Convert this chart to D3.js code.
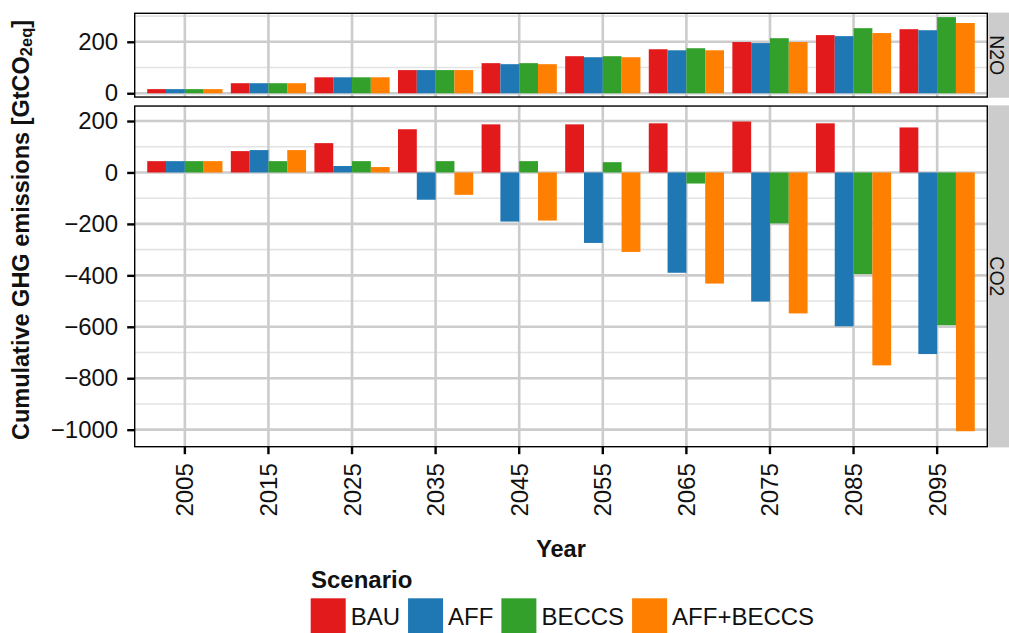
<!DOCTYPE html>
<html>
<head>
<meta charset="utf-8">
<script src="https://cdn.jsdelivr.net/npm/d3@7"></script>
<style>
  html, body { margin: 0; padding: 0; background: #ffffff; }
  svg { display: block; font-family: "Liberation Sans", Arial, Helvetica, sans-serif; }
</style>
</head>
<body>
<svg id="chart" width="1009" height="633"></svg>
<script>
// ---------- data ----------
const years = ["2005","2015","2025","2035","2045","2055","2065","2075","2085","2095"];
const scenarios = ["BAU","AFF","BECCS","AFF+BECCS"];
const scenarioColors = ["#E31A1C","#1F78B4","#33A02C","#FF7F00"];
const gases = ["N2O","CO2"];

const n2oBAU       = [16, 39, 62, 90, 117, 144, 171, 199, 226, 249];
const n2oAFF       = [16, 39, 62, 90, 113, 140, 167, 195, 222, 245];
const n2oBECCS     = [16, 39, 62, 90, 117, 144, 175, 214, 253, 296];
const n2oAFFBECCS  = [16, 39, 62, 90, 113, 140, 167, 199, 234, 273];

const co2BAU       = [44, 83, 114, 168, 187, 187, 191, 198, 191, 175];
const co2AFF       = [44, 87, 25, -106, -191, -274, -390, -502, -598, -706];
const co2BECCS     = [44, 44, 44, 44, 44, 40, -43, -198, -395, -594];
const co2AFFBECCS  = [44, 87, 21, -87, -187, -309, -432, -548, -750, -1006];

const yTickValuesN2O = [0, 200];
const yTickValuesCO2 = [200, 0, -200, -400, -600, -800, -1000];

// ---------- build records ----------
const seriesByGas = {
  "N2O": [n2oBAU, n2oAFF, n2oBECCS, n2oAFFBECCS],
  "CO2": [co2BAU, co2AFF, co2BECCS, co2AFFBECCS]
};
function records(gas) {
  const out = [];
  seriesByGas[gas].forEach((arr, si) => {
    arr.forEach((v, yi) => out.push({ year: years[yi], scenario: scenarios[si], value: v }));
  });
  return out;
}

// ---------- layout ----------
const svg = d3.select("#chart");
const pLeft = 134.7, pRight = 987.3;
const pTop = 13.3, pBottom = 446.7, pGap = 9;
const textColor = "#111111";

function expanded(vals) {
  const lo = Math.min(0, d3.min(vals)), hi = Math.max(0, d3.max(vals));
  const pad = (hi - lo) * 0.05;
  return [lo - pad, hi + pad];
}
const domains = {
  "N2O": expanded(seriesByGas["N2O"].flat()),
  "CO2": expanded(seriesByGas["CO2"].flat())
};
const spanN = domains.N2O[1] - domains.N2O[0];
const spanC = domains.CO2[1] - domains.CO2[0];
const avail = pBottom - pTop - pGap;
const hN = avail * spanN / (spanN + spanC);
const panels = {
  "N2O": { y0: pTop, y1: pTop + hN, ticks: yTickValuesN2O },
  "CO2": { y0: pTop + hN + pGap, y1: pBottom, ticks: yTickValuesCO2 }
};

const x = d3.scaleBand().domain(years).range([pLeft, pRight]).paddingInner(0.1).paddingOuter(0.15);
const xs = d3.scaleBand().domain(scenarios).range([0, x.bandwidth()]).padding(0);
const color = d3.scaleOrdinal().domain(scenarios).range(scenarioColors);

gases.forEach(gas => {
  const p = panels[gas];
  const y = d3.scaleLinear().domain(domains[gas]).range([p.y1, p.y0]);
  const g = svg.append("g");

  // minor grid
  const major = p.ticks;
  const step = 200;
  const minors = [];
  for (let v = Math.floor(domains[gas][0] / step) * step - step / 2; v <= domains[gas][1]; v += step) {
    if (v >= domains[gas][0] && v <= domains[gas][1]) minors.push(v);
  }
  g.selectAll(".minor").data(minors).join("line")
    .attr("x1", pLeft).attr("x2", pRight)
    .attr("y1", d => y(d)).attr("y2", d => y(d))
    .attr("stroke", "#e3e3e3").attr("stroke-width", 1.6);
  // major horizontal grid
  g.selectAll(".majorh").data(major).join("line")
    .attr("x1", pLeft).attr("x2", pRight)
    .attr("y1", d => y(d)).attr("y2", d => y(d))
    .attr("stroke", "#cccccc").attr("stroke-width", 2.6);
  // major vertical grid
  g.selectAll(".majorv").data(years).join("line")
    .attr("x1", d => x(d) + x.bandwidth() / 2).attr("x2", d => x(d) + x.bandwidth() / 2)
    .attr("y1", p.y0).attr("y2", p.y1)
    .attr("stroke", "#cccccc").attr("stroke-width", 2.6);

  // bars
  g.selectAll(".bar").data(records(gas)).join("rect")
    .attr("x", d => x(d.year) + xs(d.scenario))
    .attr("width", xs.bandwidth())
    .attr("y", d => Math.min(y(d.value), y(0)))
    .attr("height", d => Math.abs(y(d.value) - y(0)))
    .attr("fill", d => color(d.scenario));

  // panel border
  g.append("rect")
    .attr("x", pLeft).attr("y", p.y0)
    .attr("width", pRight - pLeft).attr("height", p.y1 - p.y0)
    .attr("fill", "none").attr("stroke", "#000").attr("stroke-width", 1.4);

  // y axis
  const yAxis = d3.axisLeft(y).tickValues(major).tickSize(7.5).tickPadding(9)
    .tickFormat(d3.format("d"));
  const ag = svg.append("g").attr("transform", `translate(${pLeft},0)`).call(yAxis);
  ag.select(".domain").remove();
  ag.selectAll(".tick line").attr("stroke", "#000").attr("stroke-width", 2.4);
  ag.selectAll(".tick text").attr("fill", textColor).style("font-size", "24px")
    .text(d => d3.format("d")(d).replace("-", "\u2212"));

  // strip
  svg.append("rect")
    .attr("x", pRight + 1).attr("y", p.y0 - 0.7)
    .attr("width", 40).attr("height", p.y1 - p.y0 + 1.4)
    .attr("fill", "#cccccc");
  svg.append("text")
    .attr("transform", `translate(${pRight + 10},${(p.y0 + p.y1) / 2}) rotate(90)`)
    .attr("text-anchor", "middle").attr("dominant-baseline", "central")
    .attr("fill", textColor).style("font-size", "19.5px")
    .text(gas);
});

// x axis
const xAxis = d3.axisBottom(x).tickSize(7.5).tickPadding(0);
const xg = svg.append("g").attr("transform", `translate(0,${pBottom})`).call(xAxis);
xg.select(".domain").remove();
xg.selectAll(".tick line").attr("stroke", "#000").attr("stroke-width", 2.4);
xg.selectAll(".tick text")
  .attr("fill", textColor).style("font-size", "24px")
  .attr("text-anchor", "end").attr("dominant-baseline", "central")
  .attr("transform", "translate(0,16.5) rotate(-90)")
  .attr("x", 0).attr("y", 0).attr("dy", null);

// axis titles
svg.append("text")
  .attr("x", (pLeft + pRight) / 2).attr("y", 557)
  .attr("text-anchor", "middle").attr("fill", textColor)
  .style("font-size", "23.5px").style("font-weight", "bold")
  .text("Year");

const yt = svg.append("text")
  .attr("transform", `translate(21,${(pTop + pBottom) / 2}) rotate(-90)`)
  .attr("text-anchor", "middle").attr("dominant-baseline", "central")
  .attr("fill", textColor).style("font-size", "23.5px").style("font-weight", "bold");
yt.append("tspan").text("Cumulative GHG emissions [GtCO");
yt.append("tspan").attr("dy", 5).style("font-size", "16.5px").text("2eq");
yt.append("tspan").attr("dy", -5).text("]");

// legend
const lg = svg.append("g");
lg.append("text").attr("x", 311).attr("y", 588)
  .attr("fill", textColor).style("font-size", "24px").style("font-weight", "bold")
  .text("Scenario");
let lx = 310.7;
scenarios.forEach((s, i) => {
  lg.append("rect").attr("x", lx).attr("y", 598.3).attr("width", 35).attr("height", 35)
    .attr("fill", color(s));
  const t = lg.append("text").attr("x", lx + 40).attr("y", 624.5)
    .attr("fill", textColor).style("font-size", "24px").text(s);
  lx = lx + 40 + t.node().getComputedTextLength() + 8;
});
</script>
</body>
</html>
